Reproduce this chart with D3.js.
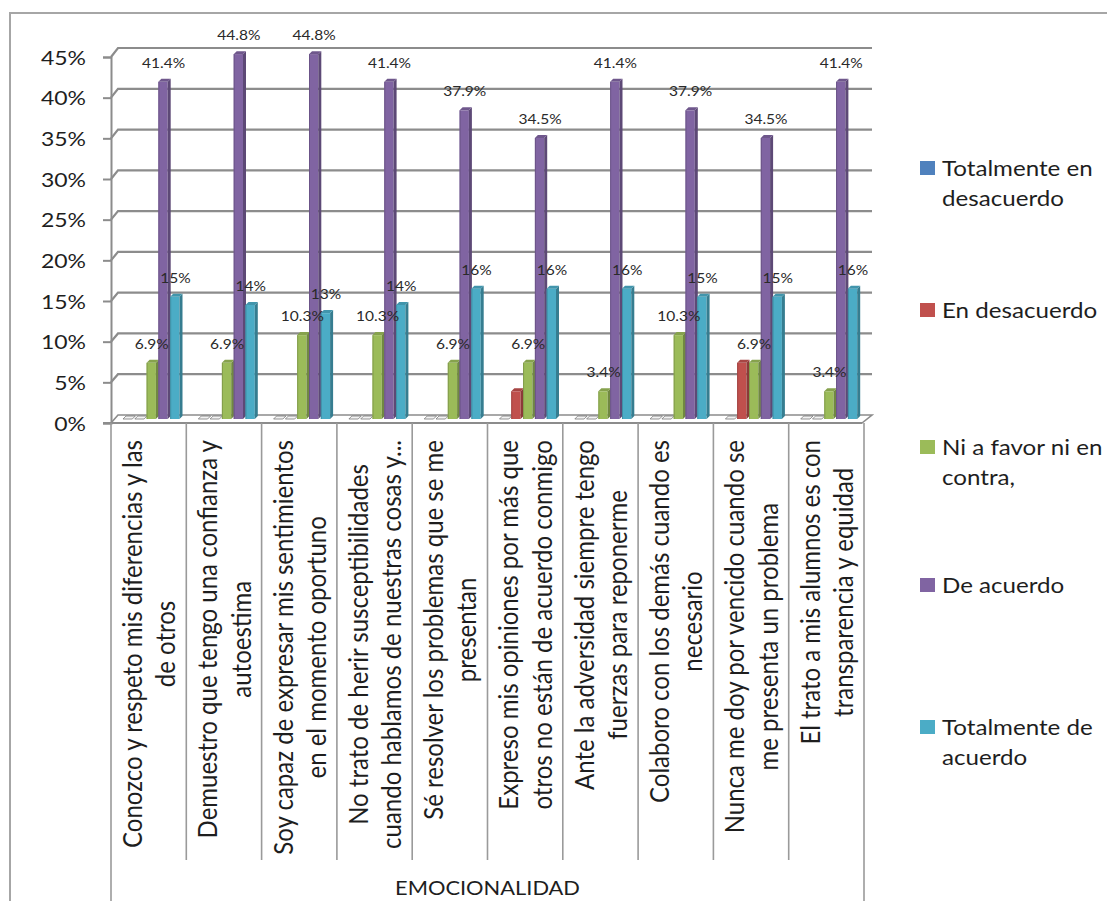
<!DOCTYPE html>
<html>
<head>
<meta charset="utf-8">
<script src="https://cdn.jsdelivr.net/npm/d3@7"></script>
<style>
  html, body { margin: 0; background: #ffffff; }
  svg { display: block; font-family: Lato, "Open Sans", sans-serif; }
</style>
</head>
<body>
<svg id="chart" width="1107" height="901"></svg>
<script>
// ---- data -------------------------------------------------------------
const categories = [
  ["Conozco y respeto mis diferencias y las", "de otros"],
  ["Demuestro que tengo una confianza y", "autoestima"],
  ["Soy capaz de expresar mis sentimientos", "en el momento oportuno"],
  ["No trato de herir susceptibilidades", "cuando hablamos de nuestras cosas y..."],
  ["Sé resolver los problemas que se me", "presentan"],
  ["Expreso mis opiniones por más que", "otros no están de acuerdo conmigo"],
  ["Ante la adversidad siempre tengo", "fuerzas para reponerme"],
  ["Colaboro con los demás cuando es", "necesario"],
  ["Nunca me doy por vencido cuando se", "me presenta un problema"],
  ["El trato a mis alumnos es con", "transparencia y equidad"]
];
const groupTitle = "EMOCIONALIDAD";

const seriesNames = [
  ["Totalmente en", "desacuerdo"],
  ["En desacuerdo"],
  ["Ni a favor ni en", "contra,"],
  ["De acuerdo"],
  ["Totalmente de", "acuerdo"]
];
const seriesColors = ["#4F81BD", "#C0504D", "#9BBB59", "#8064A2", "#4BACC6"];

const totalmenteEnDesacuerdo = [0, 0, 0, 0, 0, 0, 0, 0, 0, 0];
const enDesacuerdo           = [0, 0, 0, 0, 0, 3.4, 0, 0, 6.9, 0];
const niAFavorNiEnContra     = [6.9, 6.9, 10.3, 10.3, 6.9, 6.9, 3.4, 10.3, 6.9, 3.4];
const deAcuerdo              = [41.4, 44.8, 44.8, 41.4, 37.9, 34.5, 41.4, 37.9, 34.5, 41.4];
const totalmenteDeAcuerdo    = [15, 14, 13, 14, 16, 16, 16, 15, 15, 16];

const seriesValues = [totalmenteEnDesacuerdo, enDesacuerdo, niAFavorNiEnContra, deAcuerdo, totalmenteDeAcuerdo];
// value labels are shown for these series, with this many decimals
const labelDecimals = [null, null, 1, 1, 0];

const yTicks = [0, 5, 10, 15, 20, 25, 30, 35, 40, 45];

// ---- layout -----------------------------------------------------------
const STRETCH = 1.15;          // horizontal text stretch
const svg = d3.select("#chart");

const plotLeft = 111, plotRight = 864;
const depthX = 7, depthY = 8;  // floor / wall depth offset

const yFront = d3.scaleLinear().domain([0, 45]).range([423, 57]);
const yBack  = d3.scaleLinear().domain([0, 45]).range([415, 48]);
const yMid   = d3.scaleLinear().domain([0, 45]).range([419, 52.5]);

const x = d3.scaleBand().domain(d3.range(categories.length)).range([plotLeft, plotRight]).padding(0);
const xs = d3.scaleBand().domain(d3.range(seriesNames.length)).range([12, 71]).padding(0);

const ink = "#1e1e1e";
const gridColor = "#8c8c8c";

// outer frame
svg.append("path")
  .attr("d", `M10,901 L10,13 L1107,13`)
  .attr("fill", "none").attr("stroke", "#a6a6a6").attr("stroke-width", 2);

// floor
const floorRight = plotRight - 2;
svg.append("path")
  .attr("d", `M${plotLeft},${yFront(0)} L${plotLeft + depthX},${yBack(0)} L${floorRight + depthX + 3},${yBack(0)} L${floorRight},${yFront(0)} Z`)
  .attr("fill", "#ffffff").attr("stroke", gridColor).attr("stroke-width", 1.6);

// gridlines on the back wall, joined to the axis by the side-wall slant
svg.append("g").selectAll("path")
  .data(yTicks.filter(d => d > 0))
  .join("path")
  .attr("d", d => `M${plotLeft},${yFront(d)} L${plotLeft + depthX},${yBack(d)} L${floorRight + depthX + 3},${yBack(d)}`)
  .attr("fill", "none").attr("stroke", gridColor).attr("stroke-width", 2.2);

// value axis
const yAxis = d3.axisLeft(yFront).tickValues(yTicks).tickSize(8).tickFormat(d => d + "%");
const yAxisG = svg.append("g").attr("transform", `translate(${plotLeft},0)`).call(yAxis);
yAxisG.select(".domain").attr("stroke", gridColor).attr("stroke-width", 2);
yAxisG.selectAll(".tick line").attr("stroke", gridColor).attr("stroke-width", 2);
yAxisG.selectAll(".tick text")
  .attr("x", null).attr("dy", null)
  .attr("transform", "translate(-25,0) scale(" + STRETCH + ",1)")
  .attr("dy", "0.36em")
  .attr("font-size", 20).attr("font-family", "Lato").attr("fill", ink);

// category axis line and category boxes
svg.append("line")
  .attr("x1", plotLeft - 8).attr("x2", floorRight).attr("y1", yFront(0)).attr("y2", yFront(0))
  .attr("stroke", gridColor).attr("stroke-width", 2);
const dividers = d3.range(categories.length + 1).map(i => i === categories.length ? plotRight : x(i));
svg.append("g").selectAll("line")
  .data(dividers)
  .join("line")
  .attr("x1", d => d).attr("x2", d => d)
  .attr("y1", yFront(0))
  .attr("y2", (d, i) => (i === 0 || i === categories.length) ? 901 : 860)
  .attr("stroke", "#9a9a9a").attr("stroke-width", 1.6);

// ---- 3D bars ------------------------------------------------------------
const barSide = 3, barRise = 3;
const barW = xs.bandwidth() - barSide + 0.5;

const bars = [];
seriesValues.forEach((vals, s) => {
  vals.forEach((v, c) => {
    bars.push({ s, c, v, x0: x(c) + xs(s) });
  });
});

const barG = svg.append("g");
bars.forEach(b => {
  const base = d3.color(seriesColors[b.s]);
  const yTop = yMid(b.v), yBase = yMid(0);
  const g = barG.append("g");
  if (b.v > 0) {
    g.append("rect")
      .attr("x", b.x0).attr("y", yTop).attr("width", barW).attr("height", yBase - yTop)
      .attr("fill", base.formatHex());
    g.append("path")
      .attr("d", `M${b.x0 + barW},${yTop} L${b.x0 + barW + barSide},${yTop - barRise} L${b.x0 + barW + barSide},${yBase - barRise} L${b.x0 + barW},${yBase} Z`)
      .attr("fill", base.darker(0.9).formatHex());
    g.append("path")
      .attr("d", `M${b.x0},${yTop} L${b.x0 + barW},${yTop} L${b.x0 + barW + barSide},${yTop - barRise} L${b.x0 + barSide},${yTop - barRise} Z`)
      .attr("fill", base.darker(0.4).formatHex());
    g.append("line")
      .attr("x1", b.x0 + 0.5).attr("x2", b.x0 + 0.5).attr("y1", yTop).attr("y2", yBase)
      .attr("stroke", base.darker(0.5).formatHex()).attr("stroke-width", 1);
  } else {
    g.append("path")
      .attr("d", `M${b.x0},${yBase} L${b.x0 + barW},${yBase} L${b.x0 + barW + barSide},${yBase - barRise} L${b.x0 + barSide},${yBase - barRise} Z`)
      .attr("fill", "#f2f2f2").attr("stroke", "#7a7a7a").attr("stroke-width", 0.8);
  }
});

// value labels
const labelG = svg.append("g");
bars.filter(b => labelDecimals[b.s] !== null && b.v > 0).forEach(b => {
  labelG.append("text")
    .attr("transform", `translate(${b.x0 + (barW + barSide) / 2 - 1},${yMid(b.v) - 19}) scale(${STRETCH},1)`)
    .attr("text-anchor", "middle").attr("dy", "0.36em")
    .attr("font-size", 13.5).attr("fill", "#2a2a2a")
    .text(d3.format("." + labelDecimals[b.s] + "f")(b.v) + "%");
});

// category labels (rotated, block aligned to the axis, lines centred in the block)
const catFont = 24, catPitch = 29, labelTop = 440;
const catG = svg.append("g");
categories.forEach((lines, c) => {
  const g = catG.append("g");
  const texts = lines.map((ln, j) => g.append("text")
    .attr("x", 0)
    .attr("y", (j - (lines.length - 1) / 2) * catPitch)
    .attr("dy", "0.36em")
    .attr("text-anchor", "middle")
    .attr("font-size", catFont).attr("fill", ink)
    .text(ln));
  const maxLen = d3.max(texts, t => t.node().getComputedTextLength());
  g.attr("transform", `translate(${x(c) + x.bandwidth() / 2},${labelTop + maxLen / 2}) scale(${STRETCH},1) rotate(-90)`);
});

svg.append("text")
  .attr("transform", `translate(${(plotLeft + plotRight) / 2},888) scale(${STRETCH},1)`)
  .attr("text-anchor", "middle").attr("dy", "0.36em")
  .attr("font-size", 19).attr("fill", ink)
  .text(groupTitle);

// ---- legend -------------------------------------------------------------
const legendTops = [168, 310, 447, 585, 727];
const legendG = svg.append("g");
seriesNames.forEach((lines, s) => {
  const y0 = legendTops[s];
  legendG.append("rect")
    .attr("x", 920).attr("y", y0 - 7).attr("width", 15).attr("height", 14)
    .attr("fill", seriesColors[s]);
  lines.forEach((ln, j) => {
    legendG.append("text")
      .attr("transform", `translate(942,${y0 + j * 30}) scale(${STRETCH},1)`)
      .attr("dy", "0.36em")
      .attr("font-size", 21).attr("fill", ink)
      .text(ln);
  });
});
</script>
</body>
</html>
